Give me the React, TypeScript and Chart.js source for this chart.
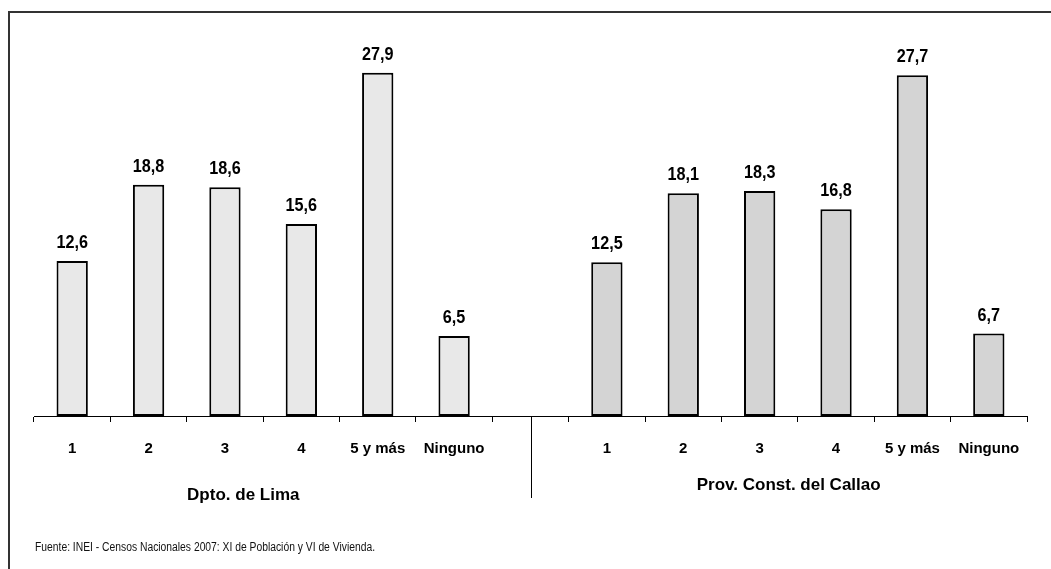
import React, { useEffect, useRef } from "react";
import { Chart, registerables } from "chart.js";

Chart.register(...registerables);

const categories = ["1", "2", "3", "4", "5 y más", "Ninguno", "", "1", "2", "3", "4", "5 y más", "Ninguno"];
const limaValues = [12.6, 18.8, 18.6, 15.6, 27.9, 6.5];
const callaoValues = [12.5, 18.1, 18.3, 16.8, 27.7, 6.7];
const groupLabels = ["Dpto. de Lima", "Prov. Const. del Callao"];
const sourceText = "Fuente: INEI - Censos Nacionales 2007: XI de Población y VI de Vivienda.";

const FONT = "'Liberation Sans', Arial, sans-serif";

const values: (number | null)[] = [...limaValues, null, ...callaoValues];
const colors = [
  ...limaValues.map(() => "#e8e8e8"),
  "#ffffff",
  ...callaoValues.map(() => "#d4d4d4"),
];

const fmt = (v: number) => v.toFixed(1).replace(".", ",");

const decorPlugin = {
  id: "decor",
  afterDraw(chart: any) {
    const ctx = chart.ctx as CanvasRenderingContext2D;
    const x = chart.scales.x;
    const area = chart.chartArea;
    ctx.save();
    // frame (top and left)
    ctx.strokeStyle = "#333";
    ctx.lineWidth = 2;
    ctx.beginPath();
    ctx.moveTo(9, chart.height + 2);
    ctx.lineTo(9, 12);
    ctx.lineTo(chart.width + 2, 12);
    ctx.stroke();

    // data labels
    const meta = chart.getDatasetMeta(0);
    ctx.fillStyle = "#000";
    ctx.font = `bold 18px ${FONT}`;
    ctx.textAlign = "center";
    ctx.textBaseline = "bottom";
    meta.data.forEach((bar: any, i: number) => {
      const v = values[i];
      if (v == null) return;
      ctx.save();
      ctx.translate(bar.x, bar.y - 9);
      ctx.scale(0.9, 1);
      ctx.fillText(fmt(v), 0, 0);
      ctx.restore();
    });

    // separator
    const sepX = Math.round(x.getPixelForValue(6)) + 0.5;
    ctx.strokeStyle = "#000";
    ctx.lineWidth = 1;
    ctx.beginPath();
    ctx.moveTo(sepX, area.bottom);
    ctx.lineTo(sepX, area.bottom + 82);
    ctx.stroke();

    // group labels
    ctx.font = `bold 17px ${FONT}`;
    ctx.textBaseline = "middle";
    const lx = x.getPixelForValue(2.24);
    const cx = x.getPixelForValue(9.38);
    ctx.fillText(groupLabels[0], lx, area.bottom + 79);
    ctx.fillText(groupLabels[1], cx, area.bottom + 69);

    // source
    ctx.font = `12px ${FONT}`;
    ctx.textAlign = "left";
    ctx.fillStyle = "#111";
    ctx.save();
    ctx.translate(35, area.bottom + 132);
    ctx.scale(0.86, 1);
    ctx.fillText(sourceText, 0, 0);
    ctx.restore();
    ctx.restore();
  },
};

export default function App() {
  const ref = useRef<HTMLCanvasElement>(null);
  useEffect(() => {
    if (!ref.current) return;
    const chart = new Chart(ref.current, {
      type: "bar",
      data: {
        labels: categories,
        datasets: [
          {
            data: values,
            backgroundColor: colors,
            borderColor: "#000",
            borderWidth: 2,
            borderSkipped: false,
            categoryPercentage: 1,
            barPercentage: 0.41,
          },
        ],
      },
      options: {
        animation: false,
        responsive: false,
        maintainAspectRatio: false,
        layout: { padding: { left: 34, right: 24, top: 47, bottom: 0 } },
        plugins: { legend: { display: false }, tooltip: { enabled: false } },
        scales: {
          x: {
            offset: true,
            grid: {
              display: true,
              offset: true,
              drawOnChartArea: false,
              drawTicks: true,
              tickLength: 6,
              color: "#000",
              lineWidth: 1,
            },
            border: { display: true, color: "#000", width: 1 },
            ticks: {
              color: "#000",
              font: { family: FONT, size: 15, weight: "bold" },
              padding: 18,
              maxRotation: 0,
              autoSkip: false,
            },
            afterFit: (scale: any) => {
              scale.height = 153;
            },
          },
          y: {
            display: false,
            min: 0,
            max: 30,
          },
        },
      },
      plugins: [decorPlugin],
    });
    return () => chart.destroy();
  }, []);
  return (
    <div style={{ position: "fixed", left: 0, top: 0, width: 1051, height: 569, background: "#fff" }}>
      <canvas ref={ref} width={1051} height={569} style={{ display: "block" }} />
    </div>
  );
}
